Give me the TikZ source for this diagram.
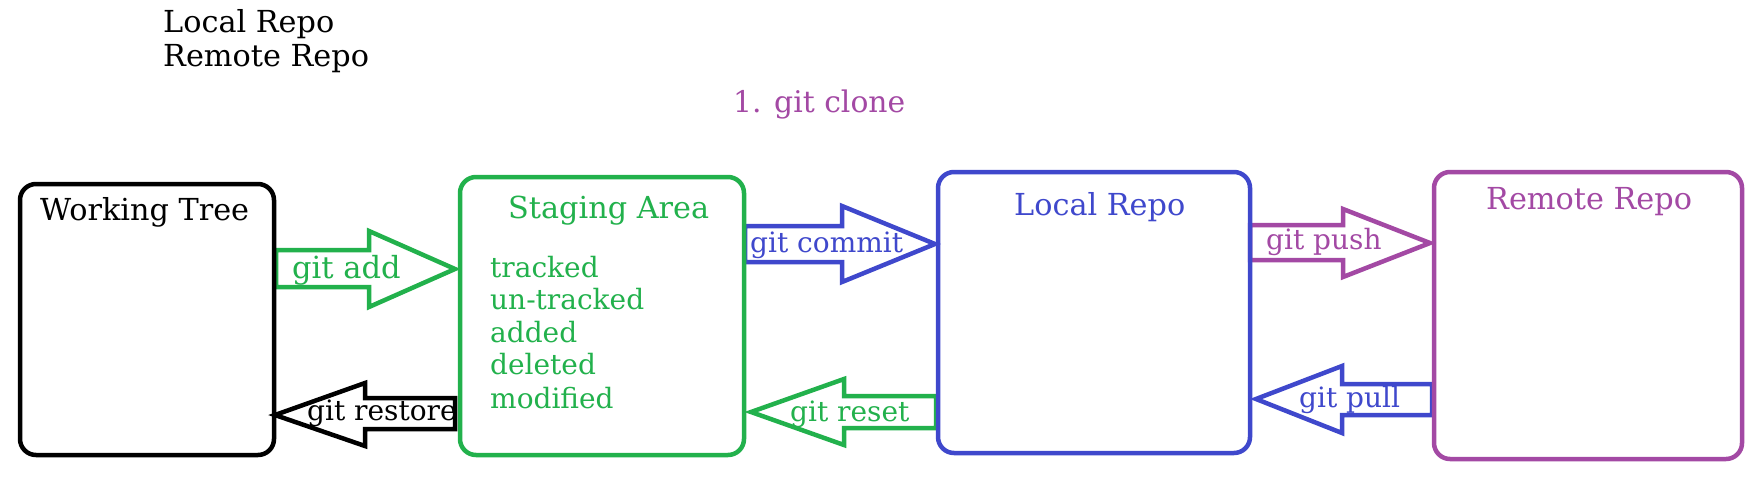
\documentclass[tikz,border=0pt]{standalone}
\usepackage{fontspec}
\setmainfont{DejaVu Serif}
\definecolor{pgreen}{RGB}{34,177,76}
\definecolor{pblue}{RGB}{63,72,204}
\definecolor{ppurple}{RGB}{163,73,164}
\begin{document}
\begin{tikzpicture}[x=1pt,y=-1pt,
  box/.style={draw, line width=4.5pt, rounded corners=16pt, inner sep=0pt, outer sep=0pt},
  blk/.style={fill=white, line width=4.5pt, line join=miter},
  lbl/.style={inner sep=0pt, anchor=base west, font=\fontsize{28}{32}\selectfont},
  big/.style={font=\fontsize{30.3}{34}\selectfont}]
\useasboundingbox (0,0) rectangle (1758,480);
% block arrows
\draw[blk, draw=pgreen] (276,250) -- (369,250) -- (369,231) -- (455,269) -- (369,307) -- (369,287) -- (276,287) -- cycle;
\draw[blk, draw=black] (275,415) -- (365,383) -- (365,398) -- (455,398) -- (455,429) -- (365,429) -- (365,446) -- cycle;
\draw[blk, draw=pblue] (745,226) -- (842,226) -- (842,206) -- (935,244) -- (842,282) -- (842,262) -- (745,262) -- cycle;
\draw[blk, draw=pgreen] (751,412) -- (844,379) -- (844,396) -- (936,396) -- (936,428) -- (844,428) -- (844,445) -- cycle;
\draw[blk, draw=ppurple] (1250,225) -- (1343,225) -- (1343,209) -- (1430,243) -- (1343,277) -- (1343,260) -- (1250,260) -- cycle;
\draw[blk, draw=pblue] (1256,399) -- (1342,366) -- (1342,384) -- (1432,384) -- (1432,415) -- (1342,415) -- (1342,433) -- cycle;
% boxes
\node[box, draw=black, minimum width=254pt, minimum height=271pt] (wt) at (147,319.5) {};
\node[box, draw=pgreen, minimum width=284pt, minimum height=278pt] (stage) at (602,316) {};
\node[box, draw=pblue, minimum width=312pt, minimum height=281pt] (local) at (1094,312.5) {};
\node[box, draw=ppurple, minimum width=308pt, minimum height=287pt] (remote) at (1588,315.5) {};
% texts
\node[lbl, big] (t1) at (163,32) {Local Repo};
\node[lbl, big] (t2) at (163,66) {Remote Repo};
\node[lbl, big, text=ppurple, font=\fontsize{29.8}{34}\selectfont] (clone) at (733,112) {1. git clone};
\node[lbl, big] (wtl) at (40,220) {Working Tree};
\node[lbl, big, text=pgreen] (stl) at (508,218) {Staging Area};
\node[lbl, text=pgreen] (s1) at (490,277) {tracked};
\node[lbl, text=pgreen] (s2) at (490,309) {un-tracked};
\node[lbl, text=pgreen] (s3) at (490,342) {added};
\node[lbl, text=pgreen] (s4) at (490,374) {deleted};
\node[lbl, text=pgreen] (s5) at (490,408) {modified};
\node[lbl, text=pgreen, font=\fontsize{30.5}{34}\selectfont] (add) at (292,278) {git add};
\node[lbl] (restore) at (307,420) {git restore};
\node[lbl, text=pblue] (commit) at (750,252) {git commit};
\node[lbl, text=pgreen] (reset) at (790,421) {git reset};
\node[lbl, big, text=pblue] (lrl) at (1014,215) {Local Repo};
\node[lbl, text=ppurple] (push) at (1266,249) {git push};
\node[lbl, big, text=ppurple] (rrl) at (1486,209) {Remote Repo};
\node[lbl, text=pblue] (pull) at (1299,407) {git pull};
\end{tikzpicture}
\end{document}
